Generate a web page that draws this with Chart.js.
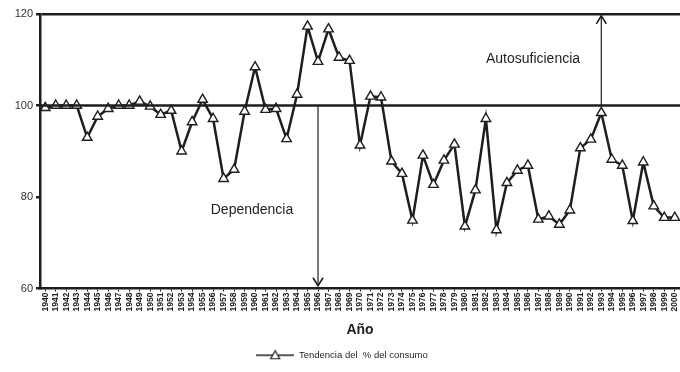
<!DOCTYPE html>
<html>
<head>
<meta charset="utf-8">
<script src="https://cdn.jsdelivr.net/npm/chart.js@4.4.0/dist/chart.umd.min.js"></script>
<style>
  html, body { margin: 0; padding: 0; background: #ffffff; }
  #wrap { width: 680px; height: 372px; position: relative; }
</style>
</head>
<body>
<div id="wrap"><canvas id="chart"></canvas></div>
<script>
// Data
const years = [];
for (let y = 1940; y <= 2000; y++) years.push(String(y));

const consumo = [
    99.5, 100, 100, 100, 93, 97.6, 99.3, 100, 100, 100.9,
    99.8, 98, 98.9, 90, 96.4, 101.3, 97.1, 84, 86, 98.7,
    108.4, 99.1, 99.3, 92.7, 102.4, 117.3, 109.6, 116.7, 110.5, 109.8,
    91.3, 102, 101.8, 87.8, 85.1, 74.9, 89.1, 82.7, 88, 91.5,
    73.6, 81.5, 97.1, 72.8, 83.1, 85.8, 86.9, 75.1, 75.8, 74,
    77.1, 90.7, 92.6, 98.4, 88.2, 86.9, 74.8, 87.6, 78, 75.5,
    75.5
];

const yTicks = [60, 80, 100, 120];

const ink = '#1e1e1e';
const fontFamily = "'Liberation Sans', Arial, sans-serif";

// legend symbol: line with a triangle in the middle
const legendSymbol = document.createElement('canvas');
legendSymbol.width = 38;
legendSymbol.height = 12;
(function () {
    const c = legendSymbol.getContext('2d');
    c.strokeStyle = ink;
    c.lineWidth = 1.5;
    c.beginPath();
    c.moveTo(0, 6);
    c.lineTo(38, 6);
    c.stroke();
    c.fillStyle = '#fff';
    c.lineWidth = 1.2;
    c.beginPath();
    c.moveTo(19, 1.5);
    c.lineTo(23.5, 9.5);
    c.lineTo(14.5, 9.5);
    c.closePath();
    c.fill();
    c.stroke();
})();

// reference line at 100, arrows and labels
const annotations = {
    id: 'annotations',
    afterDatasetsDraw(chart) {
        const { ctx, chartArea, scales } = chart;
        const x = scales.x, y = scales.y;
        ctx.save();

        // 100 line
        ctx.strokeStyle = ink;
        ctx.lineWidth = 2.5;
        ctx.beginPath();
        ctx.moveTo(chartArea.left, y.getPixelForValue(100));
        ctx.lineTo(chartArea.right, y.getPixelForValue(100));
        ctx.stroke();

        function arrow(year, from, to) {
            const px = x.getPixelForValue(years.indexOf(year));
            const y0 = y.getPixelForValue(from);
            const y1 = y.getPixelForValue(to);
            const dir = y1 > y0 ? 1 : -1;
            ctx.lineWidth = 1.2;
            ctx.beginPath();
            ctx.moveTo(px, y0);
            ctx.lineTo(px, y1);
            ctx.stroke();
            ctx.lineWidth = 1.6;
            ctx.beginPath();
            ctx.moveTo(px - 5, y1 - dir * 8);
            ctx.lineTo(px, y1);
            ctx.lineTo(px + 5, y1 - dir * 8);
            ctx.stroke();
        }
        arrow('1966', 100, 60.6);
        arrow('1993', 100, 119.6);

        ctx.fillStyle = ink;
        ctx.font = '14px ' + fontFamily;
        ctx.textAlign = 'center';
        ctx.textBaseline = 'middle';
        ctx.fillText('Autosuficiencia', 533, y.getPixelForValue(110.2));
        ctx.fillText('Dependencia', 252, y.getPixelForValue(77.2));
        ctx.restore();
    }
};

new Chart(document.getElementById('chart'), {
    type: 'line',
    data: {
        labels: years,
        datasets: [{
            label: 'Tendencia del  % del consumo',
            data: consumo,
            borderColor: ink,
            borderWidth: 2.5,
            tension: 0,
            pointStyle: 'triangle',
            pointRadius: 5.5,
            pointBackgroundColor: '#ffffff',
            pointBorderColor: ink,
            pointBorderWidth: 1.4
        }]
    },
    options: {
        responsive: true,
        maintainAspectRatio: false,
        animation: false,
        layout: {
            autoPadding: false,
            padding: { top: 14, right: 0, left: 4, bottom: 2 }
        },
        plugins: {
            legend: {
                position: 'bottom',
                labels: {
                    usePointStyle: true,
                    pointStyleWidth: 38,
                    padding: 8,
                    color: ink,
                    font: { size: 9.5, family: fontFamily },
                    generateLabels(chart) {
                        return [{
                            text: chart.data.datasets[0].label,
                            pointStyle: legendSymbol,
                            fillStyle: '#fff',
                            strokeStyle: ink,
                            lineWidth: 0,
                            fontColor: ink,
                            datasetIndex: 0
                        }];
                    }
                }
            },
            tooltip: { enabled: false }
        },
        scales: {
            x: {
                offset: true,
                grid: {
                    display: true,
                    drawOnChartArea: false,
                    tickLength: 3,
                    color: ink
                },
                border: { color: ink, width: 2.5 },
                ticks: {
                    autoSkip: false,
                    maxRotation: 90,
                    minRotation: 90,
                    padding: 1,
                    color: ink,
                    // small lineHeight keeps the last rotated label from padding the right edge
                    font: { size: 8.5, weight: 'bold', family: fontFamily, lineHeight: 0.2 }
                },
                title: {
                    display: true,
                    text: 'Año',
                    color: ink,
                    padding: { top: 2, bottom: 4 },
                    font: { size: 14, weight: 'bold', family: fontFamily }
                },
                afterFit(scale) { scale.height = 54; }
            },
            y: {
                min: 60,
                max: 120,
                afterBuildTicks(scale) {
                    scale.ticks = yTicks.map(v => ({ value: v }));
                },
                grid: {
                    drawOnChartArea: true,
                    tickLength: 4,
                    color: ctx => ctx.tick && ctx.tick.value === 120 ? ink : 'rgba(0,0,0,0)',
                    tickColor: ink,
                    lineWidth: 2.5
                },
                border: { color: ink, width: 2.5 },
                ticks: {
                    padding: 3,
                    color: '#333',
                    font: { size: 11, family: fontFamily }
                },
                afterFit(scale) { scale.width = 36; }
            }
        }
    },
    plugins: [annotations]
});
</script>
</body>
</html>
